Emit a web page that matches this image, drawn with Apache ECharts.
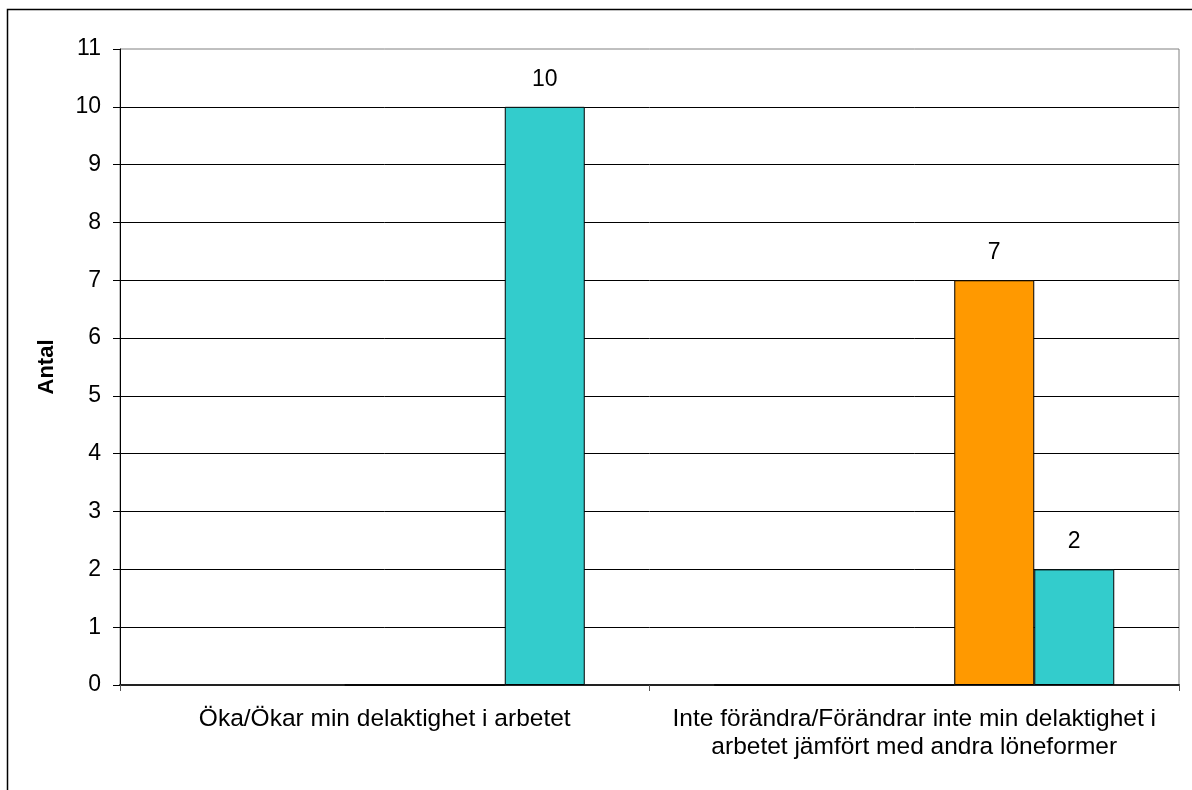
<!DOCTYPE html>
<html>
<head>
<meta charset="utf-8">
<script src="https://cdn.jsdelivr.net/npm/echarts@6/dist/echarts.min.js"></script>
<style>
html,body{margin:0;padding:0;background:#fff;}
#chart{width:1192px;height:790px;}
</style>
</head>
<body>
<div id="chart"></div>
<script>
const categories = [
  'Öka/Ökar min delaktighet i arbetet',
  'Inte förändra/Förändrar inte min delaktighet i\narbetet jämfört med andra löneformer'
];
const seriesA = [null, 0];
const seriesB = [null, 0];
const seriesC = [0, 0];
const seriesOrange = [0, 7];
const seriesTeal = [10, 2];
const yMin = 0, yMax = 11, yStep = 1;
const yAxisName = 'Antal';

const FONT = 'Liberation Sans, Arial, sans-serif';
const chart = echarts.init(document.getElementById('chart'), null, {renderer: 'canvas'});

function mkSeries(name, data, color) {
  return {
    name: name,
    type: 'bar',
    data: data,
    barWidth: 80,
    barGap: '0%',
    itemStyle: {color: color, borderColor: '#000', borderWidth: 1},
    label: {
      show: true,
      position: 'top',
      distance: 16,
      color: '#000',
      fontFamily: FONT,
      fontSize: 23,
      formatter: p => (p.value ? String(p.value) : '')
    }
  };
}

chart.setOption({
  backgroundColor: '#fff',
  animation: false,
  graphic: [{
    type: 'rect',
    shape: {x: 7.5, y: 9.5, width: 1250, height: 850},
    style: {fill: 'none', stroke: '#000', lineWidth: 1.5},
    silent: true,
    z: -10
  }],
  grid: {
    left: 120, right: 13, top: 49, bottom: 105,
    show: true, borderColor: '#808080', borderWidth: 1, backgroundColor: 'transparent'
  },
  xAxis: {
    type: 'category',
    data: categories,
    axisLine: {show: true, lineStyle: {color: '#222', width: 2}},
    axisTick: {show: true, length: 6, lineStyle: {color: '#555'}},
    axisLabel: {
      color: '#000', fontFamily: FONT, fontSize: 24.5, margin: 20,
      lineHeight: 28, align: 'center', interval: 0
    },
    splitLine: {show: false}
  },
  yAxis: {
    type: 'value',
    min: yMin, max: yMax, interval: yStep,
    name: yAxisName,
    nameLocation: 'middle',
    nameGap: 62,
    nameRotate: 90,
    nameTextStyle: {color: '#000', fontFamily: FONT, fontSize: 22, fontWeight: 'bold'},
    axisLine: {show: true, lineStyle: {color: '#000', width: 1}},
    axisTick: {show: true, length: 7, lineStyle: {color: '#000'}},
    axisLabel: {color: '#000', fontFamily: FONT, fontSize: 23, margin: 19},
    splitLine: {show: true, showMinLine: false, showMaxLine: false, lineStyle: {color: '#000', width: 1}}
  },
  series: [
    mkSeries('A', seriesA, '#9999FF'),
    mkSeries('B', seriesB, '#993366'),
    mkSeries('C', seriesC, '#FFFFCC'),
    mkSeries('Orange', seriesOrange, '#FF9900'),
    mkSeries('Teal', seriesTeal, '#33CCCC')
  ]
});
</script>
</body>
</html>
